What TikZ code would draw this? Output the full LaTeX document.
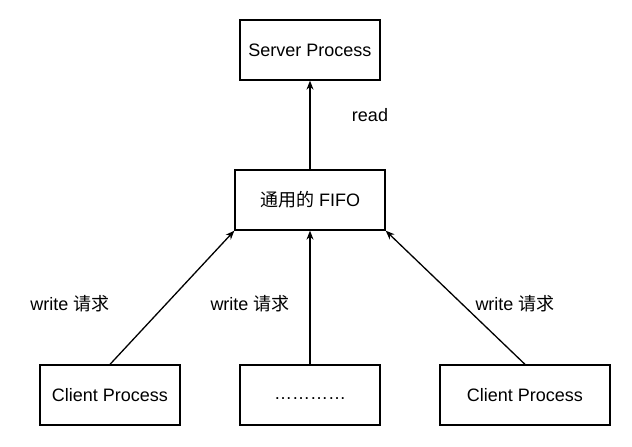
\documentclass[tikz,border=0pt]{standalone}
\usepackage{fontspec}
\setmainfont{Liberation Sans}
\newfontfamily\cjk{Noto Sans CJK SC}
\usetikzlibrary{positioning,arrows.meta}

\begin{document}
\begin{tikzpicture}[
  x=1pt, y=-1pt, font=\fontsize{18}{21}\selectfont, >=Stealth,
  proc/.style={draw, line width=1.3pt, minimum height=60pt, inner sep=0pt},
  arr/.style={->, line width=1.3pt, >={Stealth[length=9pt,width=7pt]}},
  lbl/.style={inner sep=0pt, anchor=center},
]
\useasboundingbox (0,0) rectangle (632,447);

\node[proc, minimum width=140pt] (srv)  at (310,50)  {Server Process};
\node[proc, minimum width=150pt] (fifo) at (310,200) {{\cjk 通用的} FIFO};
\node[proc, minimum width=140pt] (cl1)  at (110,395) {Client Process};
\node[proc, minimum width=140pt] (cl2)  at (310,395) {\vphantom{Cp}…………};
\node[proc, minimum width=170pt] (cl3)  at (525,395) {Client Process};

\draw[arr] (fifo) -- (srv);
\draw[arr] (cl1.north) -- (fifo.south west);
\draw[arr] (cl2) -- (fifo);
\draw[arr] (cl3.north) -- (fifo.south east);

\node[lbl] (rd) at (370,115) {read};
\node[lbl] (w1) at (70,304)  {write {\cjk 请求}};
\node[lbl] (w2) at (250,304) {write {\cjk 请求}};
\node[lbl] (w3) at (515,304) {write {\cjk 请求}};
\end{tikzpicture}
\end{document}
